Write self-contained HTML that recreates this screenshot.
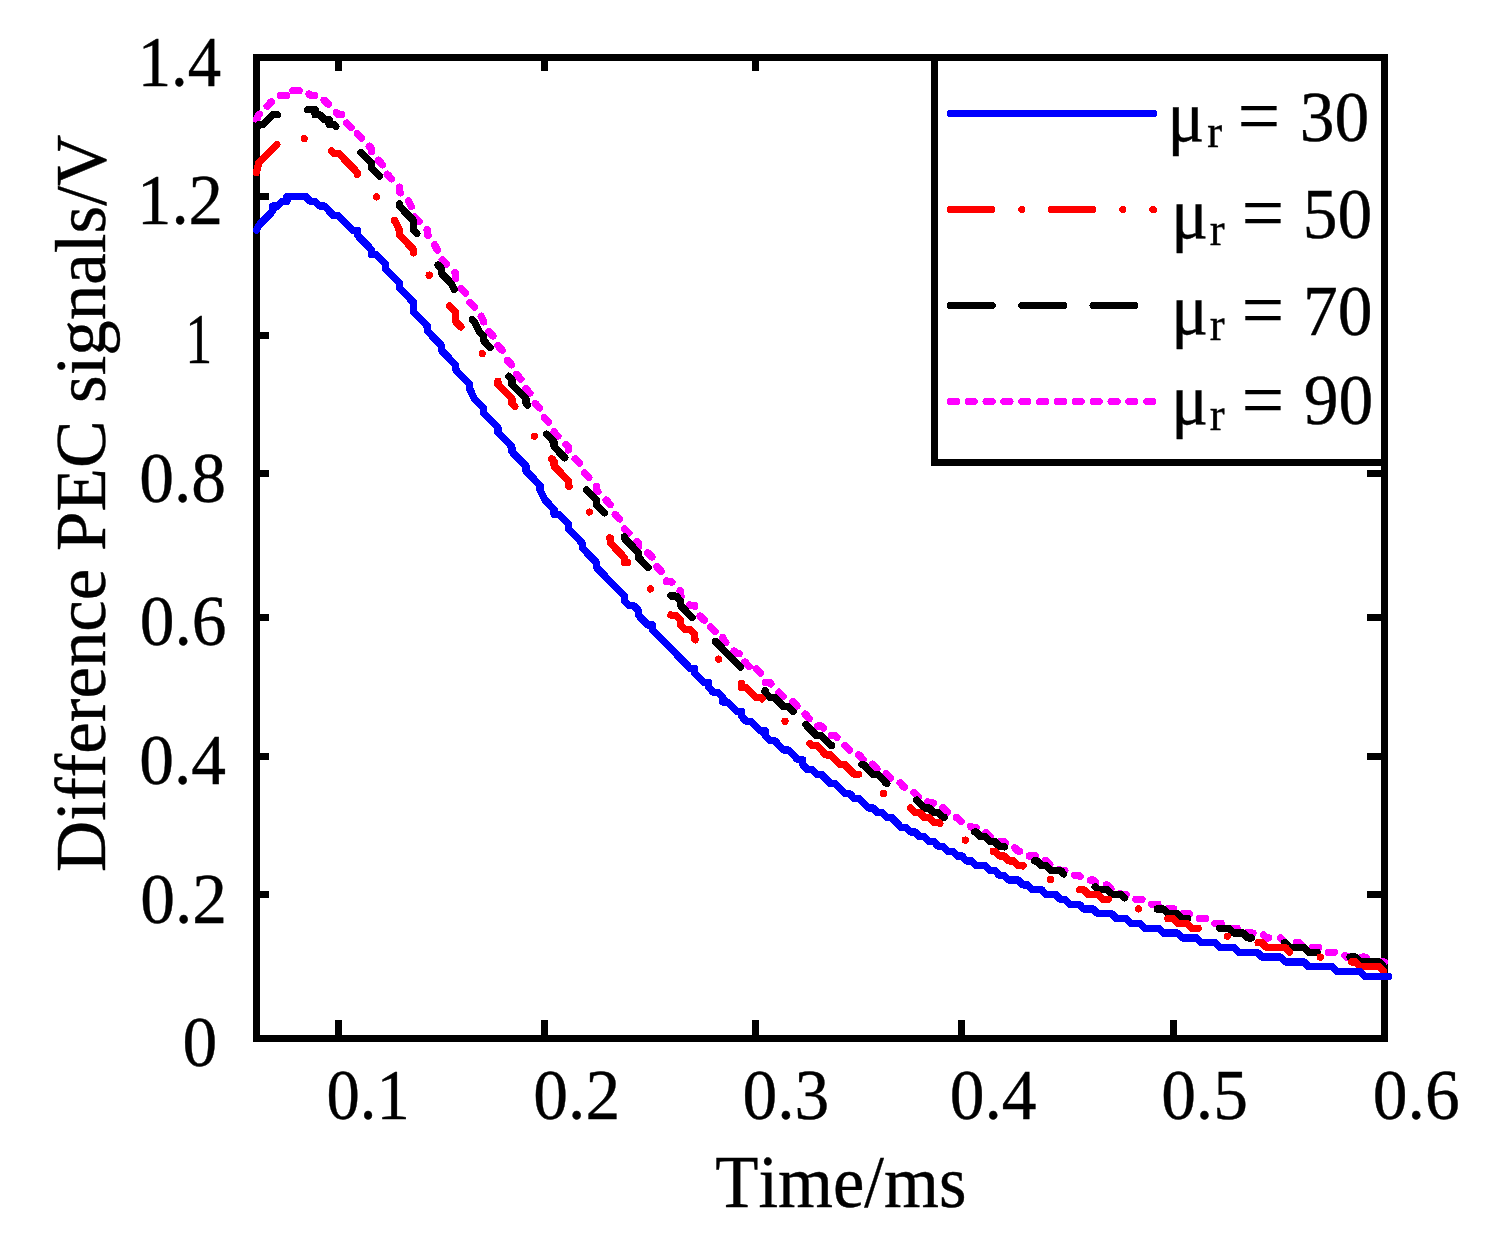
<!DOCTYPE html>
<html lang="en"><head><meta charset="utf-8"><title>Difference PEC signals</title>
<style>html,body{margin:0;padding:0;background:#fff;}body{width:1486px;height:1236px;overflow:hidden;}svg{display:block;}</style>
</head><body>
<svg width="1486" height="1236" viewBox="0 0 1486 1236">
<rect x="0" y="0" width="1486" height="1236" fill="#fff"/>
<g fill="#000" shape-rendering="crispEdges">
<rect x="257" y="193" width="12" height="7" rx="1.5"/>
<rect x="1367" y="193" width="16" height="7" rx="1.5"/>
<rect x="257" y="332" width="12" height="7" rx="1.5"/>
<rect x="1367" y="332" width="16" height="7" rx="1.5"/>
<rect x="257" y="470" width="12" height="7" rx="1.5"/>
<rect x="1367" y="470" width="16" height="7" rx="1.5"/>
<rect x="257" y="614" width="12" height="7" rx="1.5"/>
<rect x="1367" y="614" width="16" height="7" rx="1.5"/>
<rect x="257" y="753" width="12" height="7" rx="1.5"/>
<rect x="1367" y="753" width="16" height="7" rx="1.5"/>
<rect x="257" y="891" width="12" height="7" rx="1.5"/>
<rect x="1367" y="891" width="16" height="7" rx="1.5"/>
<rect x="335" y="58" width="7" height="13" rx="1.5"/>
<rect x="335" y="1020" width="7" height="17" rx="1.5"/>
<rect x="541" y="58" width="7" height="13" rx="1.5"/>
<rect x="541" y="1020" width="7" height="17" rx="1.5"/>
<rect x="752" y="58" width="7" height="13" rx="1.5"/>
<rect x="752" y="1020" width="7" height="17" rx="1.5"/>
<rect x="958" y="58" width="7" height="13" rx="1.5"/>
<rect x="958" y="1020" width="7" height="17" rx="1.5"/>
<rect x="1170" y="58" width="7" height="13" rx="1.5"/>
<rect x="1170" y="1020" width="7" height="17" rx="1.5"/>
</g>
<rect x="256.5" y="57.5" width="1128" height="981" fill="none" stroke="#000" stroke-width="7" shape-rendering="crispEdges"/>
<rect x="934.5" y="57.5" width="450" height="405" fill="#fff" stroke="#000" stroke-width="7" shape-rendering="crispEdges"/>
<path d="M256.5,119.5 L258.8,114.7 L259.3,114.2 M267.2,106.1 L271.5,101.6 M280.2,95.4 L286.4,95.4 M292.9,90.6 L299.1,90.6 M309.0,94.0 L310.4,95.4 L314.6,95.4 M324.0,100.2 L324.4,100.2 L328.4,104.3 M336.4,112.5 L338.5,114.7 L341.7,114.7 M346.7,123.1 L351.0,127.5 M357.2,133.6 L357.2,133.9 L361.4,138.2 M369.3,146.3 L371.3,148.4 L371.3,151.7 M378.3,160.3 L382.6,164.8 M387.2,174.3 L391.6,178.8 M399.4,187.1 L399.4,191.7 L400.5,192.8 M408.5,201.0 L408.8,201.3 L411.4,206.5 M414.7,217.0 L419.1,221.5 M427.1,229.7 L427.6,230.2 L427.6,235.0 L428.1,235.5 M434.7,244.8 L436.9,249.5 L437.6,250.2 M442.3,259.8 L446.7,264.2 M454.7,272.5 L455.7,273.5 L455.7,278.3 M461.0,288.6 L465.3,293.0 M470.0,302.7 L474.3,307.1 M481.2,316.3 L483.8,321.7 L483.8,321.9 M488.7,331.5 L493.0,335.9 M497.9,345.6 L497.9,345.7 L502.1,350.1 M507.4,360.4 L511.7,364.8 M516.5,374.5 L520.8,379.0 M526.0,388.5 L526.0,389.1 L529.9,393.1 M535.3,403.4 L535.4,403.5 L539.6,407.9 M544.4,417.6 L548.7,422.1 M554.1,431.6 L554.1,432.4 L557.9,436.2 M566.0,444.6 L568.2,446.8 L568.2,450.0 M575.2,458.9 L579.5,463.3 M584.4,473.1 L588.7,477.5 M596.3,486.2 L596.3,490.2 L597.9,491.7 M606.1,500.2 L610.4,504.6 L610.4,504.6 M615.3,514.4 L619.6,518.9 M624.5,528.7 L628.8,533.1 M637.0,541.6 L638.5,543.1 L638.5,547.2 M647.6,552.8 L647.9,552.8 L652.0,557.0 M656.9,566.8 L661.2,571.3 M666.6,580.9 L666.6,581.6 L671.3,581.6 L671.9,582.2 M680.1,590.7 L680.7,591.3 L680.7,596.1 L681.1,596.5 M689.4,605.0 L690.1,605.7 L694.8,605.7 L694.8,606.3 M700.1,616.0 L704.1,620.1 L704.5,620.1 M710.8,627.0 L715.1,631.4 M722.9,637.4 L722.9,639.4 L725.8,642.4 M734.1,651.0 L736.9,653.8 L739.1,653.8 M744.9,662.0 L749.2,666.4 M756.2,668.8 L760.6,673.3 M765.3,682.7 L769.8,682.7 L770.9,684.0 M779.0,692.2 L783.3,696.6 M792.7,701.5 L797.0,706.0 M805.1,714.2 L809.4,718.6 M817.8,726.1 L821.3,726.1 L823.2,728.0 M831.4,735.7 L835.4,735.7 L836.9,737.3 M845.0,745.6 L849.3,750.0 M858.8,754.9 L863.1,759.3 M872.5,764.2 L876.9,768.7 M886.3,773.6 L890.7,778.0 M900.1,782.9 L904.5,787.4 M913.9,792.3 L918.3,796.8 M927.7,801.7 L929.1,803.1 L933.4,803.1 M942.9,807.9 L943.2,807.9 L947.3,812.1 M956.6,817.5 L957.2,817.5 L961.1,821.5 M970.6,826.4 L971.3,827.2 L976.0,827.2 L976.4,827.5 M985.9,832.5 L990.1,836.8 L990.2,836.8 M999.8,841.6 L1004.1,841.6 L1005.4,842.9 M1014.9,847.9 L1018.2,851.2 L1019.7,851.2 M1029.3,856.0 L1035.5,856.0 M1045.1,860.9 L1046.3,860.9 L1049.8,864.4 M1059.3,869.4 L1060.4,870.5 L1065.0,870.5 M1074.6,875.3 L1079.1,875.3 L1080.3,876.5 M1090.4,880.1 L1093.2,880.1 L1095.6,882.6 M1106.2,884.9 L1107.2,884.9 L1110.9,888.6 M1120.4,893.6 L1121.3,894.6 L1126.2,894.6 M1135.8,899.4 L1142.0,899.4 M1151.7,904.2 L1157.9,904.2 M1167.5,909.0 L1173.7,909.0 M1183.3,913.8 L1189.5,913.8 M1199.2,918.6 L1205.4,918.6 M1215.0,923.4 L1215.1,923.4 L1221.2,923.4 M1230.9,928.3 L1237.1,928.3 M1247.1,932.3 L1247.9,933.1 L1253.0,933.1 M1263.8,935.0 L1266.6,937.9 L1268.8,937.9 M1280.5,937.9 L1280.7,937.9 L1284.9,942.2 M1296.4,942.7 L1299.4,942.7 L1301.7,945.0 M1312.3,947.5 L1318.5,947.5 M1328.2,952.3 L1334.4,952.3 M1344.8,955.6 L1346.3,957.1 L1350.3,957.1 M1362.1,957.1 L1365.1,957.1 L1367.3,959.4 M1378.0,962.0 L1384.2,962.0" stroke="#f0f" fill="none" stroke-width="7.3" stroke-linecap="round" stroke-linejoin="round" shape-rendering="crispEdges"/>
<path d="M256.5,129.1 L258.8,124.3 L263.5,124.3 L272.9,114.7 L277.4,114.7 M307.7,109.8 L315.1,109.8 L315.1,114.7 L319.8,114.7 L324.4,119.5 L329.1,119.5 L329.1,124.3 L333.8,124.3 L335.8,126.3 M361.1,152.4 L371.3,162.8 L371.3,167.6 L379.5,176.0 M399.4,204.0 L399.4,206.1 L413.5,220.6 L413.5,230.2 L416.7,233.4 M438.0,265.0 L441.6,268.7 L441.6,273.5 L451.0,283.2 L454.0,289.3 M472.4,319.6 L474.4,321.7 L479.1,331.3 L483.8,336.1 L483.8,340.9 L490.3,347.5 M508.8,376.3 L511.9,379.4 L511.9,384.3 L526.0,398.7 L526.0,403.5 L527.5,405.0 M546.6,434.3 L554.1,442.0 L554.1,446.8 L564.7,457.7 M586.5,489.8 L596.3,499.8 L596.3,504.6 L604.3,512.8 M624.4,536.8 L624.4,538.3 L638.5,552.8 L638.5,557.6 L648.1,567.4 M670.9,595.7 L671.3,596.1 L676.0,596.1 L680.7,600.9 L680.7,605.7 L692.0,617.3 M715.4,641.4 L740.5,667.1 M765.1,690.7 L765.1,692.4 L769.8,697.2 L774.4,697.2 L783.8,706.8 L788.5,706.8 L793.1,711.5 M806.0,724.8 L816.6,735.7 L821.3,735.7 L830.7,745.3 L831.7,745.3 M862.0,764.6 L863.5,764.6 L872.9,774.2 L877.6,774.2 L886.8,783.7 M916.8,800.1 L924.4,807.9 L929.1,807.9 L933.8,812.7 L938.5,812.7 L943.2,817.5 L944.2,817.5 M974.7,832.0 L976.0,832.0 L980.7,836.8 L985.4,836.8 L990.1,841.6 L994.8,841.6 L999.4,846.4 L1004.1,846.4 L1004.4,846.7 M1034.6,860.9 L1036.9,860.9 L1041.6,865.7 L1046.3,865.7 L1051.0,870.5 L1060.4,870.5 L1063.7,873.9 M1095.1,886.9 L1097.9,889.7 L1107.2,889.7 L1111.9,894.6 L1121.3,894.6 L1124.4,897.7 M1157.3,909.0 L1163.5,909.0 L1168.2,913.8 L1177.6,913.8 L1182.2,918.6 L1187.6,918.6 M1219.6,928.3 L1229.1,928.3 L1233.8,933.1 L1243.2,933.1 L1247.9,937.9 L1251.5,937.9 M1284.5,942.7 L1285.4,942.7 L1290.1,947.5 L1304.1,947.5 L1308.8,952.3 L1317.1,952.3 M1350.0,957.1 L1355.7,957.1 L1360.4,962.0 L1379.1,962.0 L1382.4,965.3" stroke="#000" fill="none" stroke-width="7.3" stroke-linecap="round" stroke-linejoin="round" shape-rendering="crispEdges"/>
<path d="M256.5,172.4 L258.8,162.8 L276.8,144.4 M331.7,151.0 L333.8,153.2 L338.5,153.2 L357.2,172.4 L357.2,174.2 M394.5,220.4 L394.8,220.6 L399.4,230.2 L399.4,235.0 L413.5,249.5 L413.5,252.9 M449.8,306.0 L455.7,312.0 L455.7,321.7 L460.8,326.9 M497.9,381.3 L497.9,384.3 L511.9,398.7 L511.9,403.5 L514.8,406.4 M551.7,458.8 L554.1,461.3 L554.1,466.1 L568.2,480.5 L568.2,485.4 L569.2,486.3 M609.6,537.6 L610.4,538.3 L610.4,543.1 L624.4,557.6 L624.4,562.4 L627.5,562.4 M670.9,615.0 L671.3,615.3 L676.0,615.3 L680.7,620.1 L680.7,625.0 L685.4,629.8 L690.1,629.8 L694.8,634.6 L694.8,639.4 L695.2,639.8 M741.6,683.5 L741.6,687.5 L746.3,687.5 L755.7,697.2 L760.4,697.2 L762.0,698.8 M810.1,743.5 L811.9,745.3 L816.6,745.3 L826.0,754.9 L830.7,754.9 L840.1,764.6 L844.8,764.6 L854.1,774.2 L858.6,774.2 M910.6,808.1 L915.1,812.7 L919.8,812.7 L924.4,817.5 L929.1,817.5 L933.8,822.3 L938.5,822.3 L939.7,823.5 M993.2,851.2 L994.8,851.2 L999.4,856.0 L1004.1,856.0 L1008.8,860.9 L1013.5,860.9 L1018.2,865.7 L1022.9,865.7 L1023.0,865.8 M1079.8,889.7 L1083.8,889.7 L1088.5,894.6 L1097.9,894.6 L1102.6,899.4 L1108.3,899.4 M1167.9,918.6 L1172.9,918.6 L1177.6,923.4 L1186.9,923.4 L1191.6,928.3 L1198.1,928.3 M1258.1,942.7 L1261.9,942.7 L1266.6,947.5 L1285.4,947.5 L1289.7,952.0 M1351.6,962.0 L1355.7,962.0 L1360.4,966.8 L1379.1,966.8 L1383.6,971.4 M304.2,138.7 l0.01,0 M376.5,197.0 l0.01,0 M429.1,275.1 l0.01,0 M482.2,353.7 l0.01,0 M534.4,436.2 l0.01,0 M589.4,512.0 l0.01,0 M650.4,589.0 l0.01,0 M718.6,659.1 l0.01,0 M785.0,721.2 l0.01,0 M883.4,793.5 l0.01,0 M965.2,840.1 l0.01,0 M1050.5,879.6 l0.01,0 M1138.5,909.0 l0.01,0 M1227.5,936.2 l0.01,0 M1320.3,957.1 l0.01,0" stroke="#f00" fill="none" stroke-width="7.3" stroke-linecap="round" stroke-linejoin="round" shape-rendering="crispEdges"/>
<path d="M256.5,230.2 L258.8,225.4 L272.9,210.9 L272.9,206.1 L277.6,206.1 L282.2,201.3 L286.9,201.3 L286.9,196.5 L305.7,196.5 L310.4,201.3 L315.1,201.3 L319.8,206.1 L324.4,206.1 L333.8,215.8 L338.5,215.8 L352.6,230.2 L357.2,230.2 L357.2,235.0 L371.3,249.5 L371.3,254.3 L376.0,254.3 L385.4,263.9 L385.4,268.7 L399.4,283.2 L399.4,288.0 L413.5,302.4 L413.5,312.0 L427.6,326.5 L427.6,331.3 L441.6,345.7 L441.6,350.6 L455.7,365.0 L455.7,369.8 L469.8,384.3 L469.8,389.1 L474.4,398.7 L483.8,408.3 L483.8,413.1 L497.9,427.6 L497.9,432.4 L511.9,446.8 L511.9,451.7 L526.0,466.1 L526.0,470.9 L540.1,485.4 L540.1,490.2 L544.8,499.8 L554.1,509.4 L554.1,514.2 L558.8,514.2 L568.2,523.9 L568.2,528.7 L582.2,543.1 L582.2,547.9 L596.3,562.4 L596.3,567.2 L624.4,596.1 L624.4,600.9 L629.1,605.7 L633.8,605.7 L638.5,610.5 L638.5,615.3 L647.9,625.0 L652.6,625.0 L652.6,629.8 L690.1,668.3 L694.8,668.3 L694.8,673.1 L704.1,682.7 L708.8,682.7 L708.8,687.5 L713.5,692.4 L718.2,692.4 L722.9,697.2 L722.9,702.0 L727.6,702.0 L736.9,711.6 L741.6,711.6 L741.6,716.4 L746.3,721.2 L751.0,721.2 L760.4,730.9 L765.1,730.9 L765.1,735.7 L769.8,740.5 L774.4,740.5 L783.8,750.1 L788.5,750.1 L797.9,759.8 L802.6,759.8 L802.6,764.6 L807.2,769.4 L811.9,769.4 L816.6,774.2 L821.3,774.2 L830.7,783.8 L835.4,783.8 L844.8,793.5 L849.4,793.5 L854.1,798.3 L858.8,798.3 L868.2,807.9 L872.9,807.9 L877.6,812.7 L882.2,812.7 L886.9,817.5 L891.6,817.5 L901.0,827.2 L905.7,827.2 L910.4,832.0 L915.1,832.0 L919.8,836.8 L924.4,836.8 L929.1,841.6 L933.8,841.6 L938.5,846.4 L943.2,846.4 L947.9,851.2 L952.6,851.2 L957.2,856.0 L961.9,856.0 L966.6,860.9 L971.3,860.9 L976.0,865.7 L985.4,865.7 L990.1,870.5 L994.8,870.5 L999.4,875.3 L1004.1,875.3 L1008.8,880.1 L1018.2,880.1 L1022.9,884.9 L1027.6,884.9 L1032.2,889.7 L1041.6,889.7 L1046.3,894.6 L1055.7,894.6 L1060.4,899.4 L1065.1,899.4 L1069.8,904.2 L1079.1,904.2 L1083.8,909.0 L1093.2,909.0 L1097.9,913.8 L1111.9,913.8 L1116.6,918.6 L1126.0,918.6 L1130.7,923.4 L1140.1,923.4 L1144.8,928.3 L1158.8,928.3 L1163.5,933.1 L1177.6,933.1 L1182.2,937.9 L1196.3,937.9 L1201.0,942.7 L1215.1,942.7 L1219.8,947.5 L1233.8,947.5 L1238.5,952.3 L1257.2,952.3 L1261.9,957.1 L1280.7,957.1 L1285.4,962.0 L1304.1,962.0 L1308.8,966.8 L1332.2,966.8 L1336.9,971.6 L1360.4,971.6 L1365.1,976.4 L1388.5,976.4" stroke="#00f" fill="none" stroke-width="7.3" stroke-linecap="round" stroke-linejoin="round" shape-rendering="crispEdges"/>
<path d="M950.4,113.5 H1153.9" stroke="#00f" fill="none" stroke-width="7" stroke-linecap="round" stroke-linejoin="round" shape-rendering="crispEdges"/>
<path d="M950.3,209.5 H1153.5" stroke="#f00" fill="none" stroke-width="7" stroke-linecap="round" stroke-linejoin="round" shape-rendering="crispEdges" stroke-dasharray="41.5 29.8 0.01 29.8"/>
<path d="M950.3,305.5 H1153.5" stroke="#000" fill="none" stroke-width="7" stroke-linecap="round" stroke-linejoin="round" shape-rendering="crispEdges" stroke-dasharray="42 29.3"/>
<path d="M950.3,401.5 H1153.5" stroke="#f0f" fill="none" stroke-width="7" stroke-linecap="round" stroke-linejoin="round" shape-rendering="crispEdges" stroke-dasharray="6.3 11.54"/>
<g font-family="'Liberation Serif', 'Times New Roman', serif" font-size="72" fill="#000" stroke="#000" stroke-width="0.4" style="font-kerning:none;font-variant-ligatures:none">
<text transform="translate(137.74,85.71) scale(0.9265,1.007)">1.4</text>
<text transform="translate(136.96,223.66) scale(0.9568,1.007)">1.2</text>
<text transform="translate(185.3,362.71) scale(0.75,1.007)">1</text>
<text transform="translate(139.18,502.21) scale(0.965,1.007)">0.8</text>
<text transform="translate(139.68,644.91) scale(0.965,1.007)">0.6</text>
<text transform="translate(139.19,783.86) scale(0.965,1.007)">0.4</text>
<text transform="translate(140.16,922.86) scale(0.965,1.007)">0.2</text>
<text transform="translate(182.53,1066.11) scale(0.965,1.007)">0</text>
<text transform="translate(326.45,1119.11) scale(0.9262,1.007)">0.1</text>
<text transform="translate(533.31,1119.11) scale(0.965,1.007)">0.2</text>
<text transform="translate(742.42,1118.96) scale(0.965,1.007)">0.3</text>
<text transform="translate(949.69,1118.96) scale(0.965,1.007)">0.4</text>
<text transform="translate(1161.13,1119.06) scale(0.965,1.007)">0.5</text>
<text transform="translate(1372.78,1118.96) scale(0.965,1.007)">0.6</text>
<text transform="translate(715.22,1206.67) scale(0.9814,1.016)">Time/ms</text>
<text transform="translate(105.1,872.0) rotate(-90) scale(0.9859,1.0)">Difference PEC signals/V</text>
<text transform="translate(0,141.01) scale(0.965,1.007)" xml:space="preserve"><tspan x="1209.87" y="0.16" font-size="71.28">μ</tspan><tspan x="1250.93" y="6.32" font-size="46.35">r</tspan><tspan x="1263.14" y="1.28" font-size="77.76"> = </tspan><tspan x="1346.87" y="0.0" font-size="72.0">30</tspan></text>
<text transform="translate(0,238.01) scale(0.965,1.007)" xml:space="preserve"><tspan x="1213.7" y="0.41" font-size="71.28">μ</tspan><tspan x="1253.67" y="6.62" font-size="46.35">r</tspan><tspan x="1267.28" y="1.43" font-size="77.76"> = </tspan><tspan x="1349.99" y="0.0" font-size="72.0">50</tspan></text>
<text transform="translate(0,334.91) scale(0.965,1.007)" xml:space="preserve"><tspan x="1213.7" y="-0.73" font-size="71.28">μ</tspan><tspan x="1253.67" y="5.32" font-size="46.35">r</tspan><tspan x="1267.28" y="0.74" font-size="77.76"> = </tspan><tspan x="1350.15" y="0.0" font-size="72.0">70</tspan></text>
<text transform="translate(0,424.31) scale(0.965,1.007)" xml:space="preserve"><tspan x="1213.7" y="0.01" font-size="71.28">μ</tspan><tspan x="1253.67" y="5.92" font-size="46.35">r</tspan><tspan x="1267.28" y="1.58" font-size="77.76"> = </tspan><tspan x="1350.99" y="0.0" font-size="72.0">90</tspan></text>
</g>
</svg>
</body></html>
